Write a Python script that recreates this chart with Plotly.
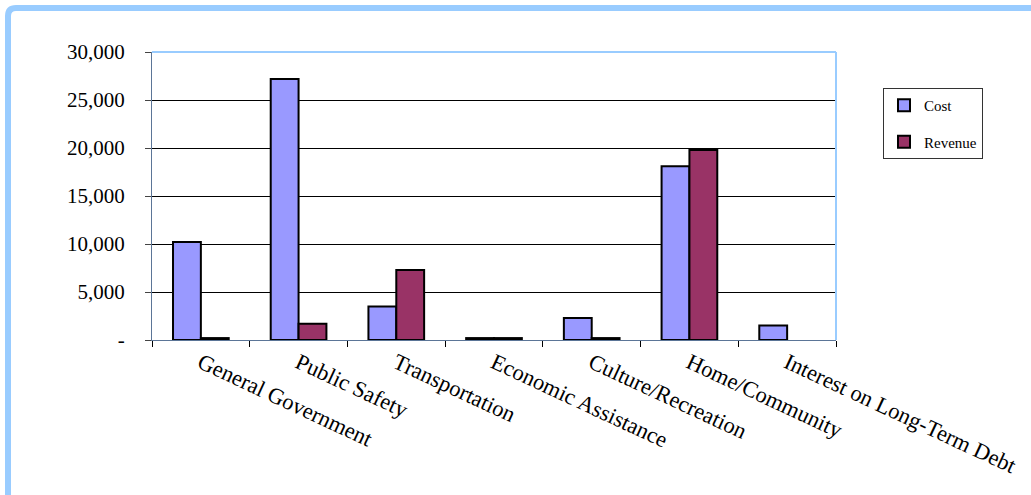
import plotly.graph_objects as go

categories = ["General Government", "Public Safety", "Transportation",
              "Economic Assistance", "Culture/Recreation", "Home/Community",
              "Interest on Long-Term Debt"]
cost = [10200, 27200, 3500, 200, 2300, 18100, 1500]
revenue = [200, 1700, 7300, 200, 200, 19800, None]
y_tickvals = [0, 5000, 10000, 15000, 20000, 25000, 30000]
y_ticktext = ["-", "5,000", "10,000", "15,000", "20,000", "25,000", "30,000"]

W, H = 1031, 495
L, R, T, B = 152, 836, 52, 340
pw, ph = R - L, B - T


def px(x):
    return (x - L) / pw


def py(y):
    return (B - y) / ph


FONT = "Liberation Serif, Times New Roman, serif"

fig = go.Figure()
fig.add_trace(go.Bar(x=categories, y=cost, name="Cost",
                     marker=dict(color="#9999ff", line=dict(color="black", width=2)),
                     legendgroup="a"))
fig.add_trace(go.Bar(x=categories, y=revenue, name="Revenue",
                     marker=dict(color="#993366", line=dict(color="black", width=2)),
                     legendgroup="b"))

frame_color = "#99ccff"
shapes = [
    dict(type="path", xref="paper", yref="paper",
         path=f"M {px(8)},{py(520)} L {px(8)},{py(16)} Q {px(8)},{py(8)} {px(16)},{py(8)} L {px(1060)},{py(8)}",
         line=dict(color=frame_color, width=6), layer="above"),
    dict(type="line", xref="paper", yref="paper", x0=0, x1=1, y0=1, y1=1,
         line=dict(color=frame_color, width=2), layer="above"),
    dict(type="line", xref="paper", yref="paper", x0=1, x1=1, y0=0, y1=1,
         line=dict(color=frame_color, width=2), layer="above"),
]

fig.update_layout(
    width=W, height=H,
    margin=dict(l=L, r=W - R, t=T, b=H - B, pad=0, autoexpand=False),
    paper_bgcolor="white", plot_bgcolor="white",
    barmode="group", bargap=0.43, bargroupgap=0,
    font=dict(family=FONT, color="black"),
    showlegend=True,
    legend=dict(x=px(883), y=py(88), xanchor="left", yanchor="top",
                bgcolor="white", bordercolor="#333333", borderwidth=1,
                font=dict(family=FONT, size=15), tracegroupgap=14,
                itemwidth=30, traceorder="grouped"),
    shapes=shapes,
)
fig.update_xaxes(
    type="category", showgrid=False, showline=True, linecolor="#5b7597", linewidth=1,
    ticks="outside", tickson="boundaries", ticklen=6, tickcolor="black",
    tickangle=25, tickfont=dict(family=FONT, size=22.5, color="black"),
    zeroline=False, automargin=False,
)
fig.update_yaxes(
    range=[0, 30000], tickvals=y_tickvals, ticktext=y_ticktext,
    showgrid=True, gridcolor="black", gridwidth=1,
    showline=True, linecolor="#5b7597", linewidth=1,
    ticks="outside", ticklen=6, tickcolor="#444444",
    tickfont=dict(family=FONT, size=21, color="black"),
    ticklabelstandoff=16, zeroline=False, automargin=False,
)

fig.write_html("out.html")
